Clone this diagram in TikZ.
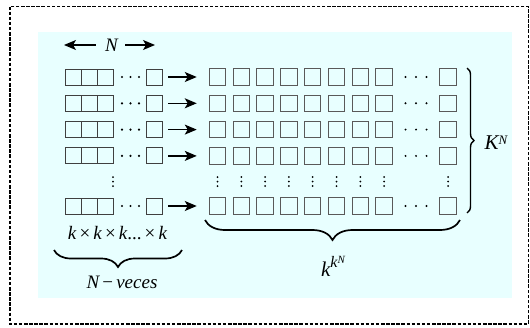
\documentclass[tikz,border=0pt]{standalone}
\usepackage{fontspec}
\setmainfont{Liberation Serif}
\usetikzlibrary{arrows.meta,decorations.pathreplacing}
\definecolor{panel}{RGB}{232,255,255}
\begin{document}
\begin{tikzpicture}[x=1pt,y=-1pt,
  cell/.style={draw=black!75, line width=0.9pt, minimum size=16pt, inner sep=0pt},
  gcell/.style={draw=black!65, line width=1pt, minimum size=16.5pt, inner sep=0pt},
  arr/.style={-{Stealth[length=12pt,width=10pt,inset=3pt]}, line width=1.2pt},
  lbl/.style={font=\fontsize{19}{21}\selectfont, inner sep=0pt},
  brc/.style={decorate, line width=1.7pt}
]
\useasboundingbox (0,0) rectangle (530,327);
% outer dashed frame and panel
\draw[line width=1.6pt, dash pattern=on 3.5pt off 1.6pt] (10,6.5) rectangle (528.5,324);
\fill[panel] (38,32) rectangle (511.5,298);

% width marker
\node[lbl] (N) at (111.5,45) {\itshape N};
\coordinate (nL) at (64,45);
\coordinate (nR) at (155,45);
\draw[arr, shorten <=9pt] (N.west) -- (nL);
\draw[arr, shorten <=7pt] (N.east) -- (nR);

% rows of cells
\foreach \r/\y in {1/77,2/103.3,3/129.6,4/155.9,5/206} {
  \foreach \i/\x in {a/73,b/89,c/105}
    \node[cell] (L\r\i) at (\x,\y) {};
  \node[cell] (L\r-z) at (154.7,\y) {};
  \foreach \x in {122,130.5,139}
    \fill (\x,\y) circle (1.2pt);
  \foreach \k in {1,...,8}
    \node[gcell] (R\r-\k) at ({217.5+23.8*(\k-1)},\y) {};
  \foreach \x in {405.5,416,426.5}
    \fill (\x,\y) circle (1.1pt);
  \node[gcell] (R\r-z) at (448,\y) {};
  \draw[arr, shorten <=5pt, shorten >=12pt] (L\r-z.east) -- (R\r-1.west);
}

% vertical ellipses
\foreach \x in {113,217.5,241.3,265.1,288.9,312.7,336.5,360.3,384.1,448}
  \foreach \yy in {177,181.5,186}
    \fill (\x,\yy) circle (1pt);

% product label and brace
\node[lbl] (prod) at (117.5,233) {\itshape k\,\upshape×\,\itshape k\,\upshape×\,\itshape k\upshape...\,×\,\itshape k};
\draw[brc, decoration={brace, amplitude=17pt}] (182,250) -- (54,250);
\node[lbl] (veces) at (122,282) {\itshape N\upshape\,−\,\itshape veces};

% right brace and row count
\draw[brc, line width=1.4pt, decoration={brace, amplitude=7pt}] (467,68) -- (467,213);
\node[lbl, font=\fontsize{21}{23}\selectfont] (KN) at (496,143) {\itshape K\raisebox{0.55ex}{\fontsize{13}{14}\selectfont N}};

% bottom brace and column count
\draw[brc, decoration={brace, amplitude=20pt}] (460,220) -- (205,220);
\node[lbl, font=\fontsize{21}{23}\selectfont] (kkN) at (333,266) {\itshape k\raisebox{0.9ex}{\fontsize{16}{17}\selectfont k\raisebox{0.6ex}{\fontsize{11}{12}\selectfont N}}};
\end{tikzpicture}
\end{document}
